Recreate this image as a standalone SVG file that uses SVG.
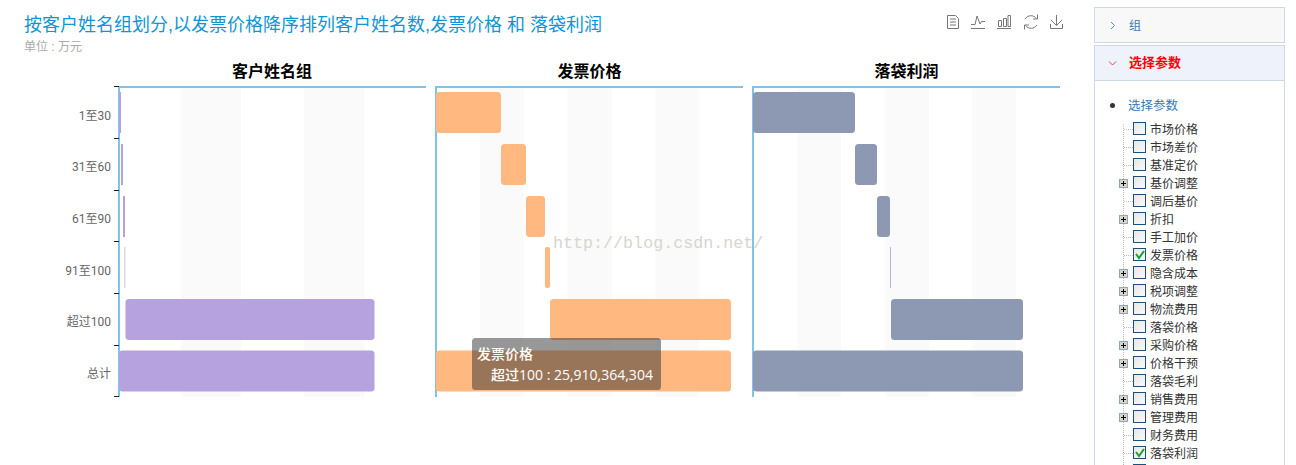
<svg xmlns="http://www.w3.org/2000/svg" width="1296" height="465" viewBox="0 0 1296 465">
<defs><linearGradient id="cbg" x1="0" y1="0" x2="1" y2="1"><stop offset="0" stop-color="#e6e6e2"/><stop offset="1" stop-color="#fafafa"/></linearGradient></defs>
<style>
text{font-family:"Liberation Sans","Noto Sans CJK SC",sans-serif}
.band{fill:#fafafa}
.ax{stroke:#7fc3e8;stroke-width:2;fill:none}
.tick{stroke:#222;stroke-width:1;fill:none}
.ptitle{font-size:16px;font-weight:bold;fill:#000;text-anchor:middle}
.cat{font-size:12px;fill:#666;text-anchor:end;font-family:Roboto,"Noto Sans CJK SC",sans-serif}
.p{fill:#b6a2de}.o{fill:#ffb980}.s{fill:#8d98b3}
.pan{stroke:#cdd9e5;stroke-width:1}
.cb{fill:url(#cbg);stroke:#1a5080;stroke-width:1}
.tree{font-size:12px;fill:#333}
.dot{stroke:#bbb;stroke-width:1;stroke-dasharray:1 1;fill:none}
.plus{fill:#d8d4c8;stroke:#8fa5bb;stroke-width:1}
.plusm{stroke:#000;stroke-width:1;fill:none}
.chk{stroke:#1f9e2a;stroke-width:2;fill:none}
.ic{stroke:#777;stroke-width:1;fill:none}
.tip{font-size:14px;fill:#fff;font-family:"Open Sans","Noto Sans CJK SC",sans-serif;font-weight:500}
</style>
<g id="title">
<text x="24" y="31" font-size="18" fill="#0f95d6">按客户姓名组划分,以发票价格降序排列客户姓名数,发票价格 和 落袋利润</text>
<text x="24" y="51" font-size="12" fill="#aaa">单位 : 万元</text>
</g>
<g id="toolbox">
<path class="ic" d="M947.500 15.500H955.500L958.500 18.500V28.500H947.500ZM950 19H956M950 22H956M950 25H956"/>
<path class="ic" d="M971 24.500H975L977 16L980 24L981.500 21.500H985M971 28.500H985"/>
<path class="ic" d="M998.500 20.500H1001.500V26.500H998.500ZM1003.500 18.500H1006.500V26.500H1003.500ZM1008 15.500H1010.500V26.500H1008ZM997 28.500H1011"/>
<path class="ic" d="M1025 19A7 7 0 0 1 1036.500 18.500M1037.500 14.500V19H1033M1037 25A7 7 0 0 1 1025.500 25.500M1024.500 29.500V25H1029"/>
<path class="ic" d="M1056.500 15V25M1051 20L1056.500 25.500L1062 20M1050.500 24V28.500H1062.500V24"/>
</g>
<g id="panel-customer">
<rect class="band" x="181" y="88" width="60" height="309"/>
<rect class="band" x="304" y="88" width="60.500" height="309"/>
<text class="ptitle" x="272" y="77">客户姓名组</text>
</g>
<g id="panel-price">
<rect class="band" x="480" y="88" width="43.500" height="309"/>
<rect class="band" x="567.500" y="88" width="44" height="309"/>
<rect class="band" x="655.500" y="88" width="43.500" height="309"/>
<text class="ptitle" x="589.500" y="77">发票价格</text>
</g>
<g id="panel-profit">
<rect class="band" x="797.500" y="88" width="43.500" height="309"/>
<rect class="band" x="885" y="88" width="44" height="309"/>
<rect class="band" x="972.500" y="88" width="43.500" height="309"/>
<text class="ptitle" x="906.500" y="77">落袋利润</text>
</g>
<g id="axis-labels">
<text class="cat" x="111" y="120">1至30</text>
<text class="cat" x="111" y="171">31至60</text>
<text class="cat" x="111" y="223">61至90</text>
<text class="cat" x="111" y="275">91至100</text>
<text class="cat" x="111" y="326">超过100</text>
<text class="cat" x="111" y="378">总计</text>
</g>
<g id="connectors">
<path class="ax" d="M119 397V87H426"/>
<path class="ax" d="M436 397V87H743"/>
<path class="ax" d="M753 397V87H1060"/>
<path class="tick" d="M114 86.500H119M114 138.500H119M114 190.500H119M114 241.500H119M114 293.500H119M114 345.500H119M114 396.500H119"/>
</g>
<g id="bars-customer">
<rect class="p" x="119" y="92" width="2" height="41"/>
<rect class="p" x="121" y="144" width="2" height="41"/>
<rect class="p" x="123" y="196" width="2" height="41"/>
<rect class="p" x="124" y="247" width="1.500" height="41" opacity=".45"/>
<rect class="p" x="125.500" y="299" width="249" height="41" rx="3.500"/>
<rect class="p" x="119" y="350.500" width="255.500" height="41" rx="3.500"/>
</g>
<g id="bars-price">
<rect class="o" x="436" y="92" width="65" height="41" rx="3.500"/>
<rect class="o" x="501" y="144" width="25" height="41" rx="3.500"/>
<rect class="o" x="526" y="196" width="19" height="41" rx="3.500"/>
<rect class="o" x="545" y="247" width="5" height="41" rx="2"/>
<rect class="o" x="550" y="299" width="181" height="41" rx="3.500"/>
<rect class="o" x="436" y="350.500" width="295" height="41" rx="3.500"/>
</g>
<g id="bars-profit">
<rect class="s" x="753" y="92" width="102" height="41" rx="3.500"/>
<rect class="s" x="855" y="144" width="22" height="41" rx="3.500"/>
<rect class="s" x="877" y="196" width="13" height="41" rx="3.500"/>
<rect class="s" x="890" y="247" width="1" height="41" opacity=".7"/>
<rect class="s" x="891" y="299" width="132" height="41" rx="3.500"/>
<rect class="s" x="753" y="350.500" width="270" height="41" rx="3.500"/>
</g>
<g id="watermark">
<text x="553" y="248" font-size="16.700" fill="#d6d6d0" style="font-family:'Liberation Mono',monospace">http://blog.csdn.net/</text>
</g>
<g id="tooltip">
<rect x="472" y="338" width="189" height="52" rx="3.500" fill="#323232" fill-opacity=".5"/>
<text class="tip" x="477" y="359">发票价格</text>
<text class="tip" x="491" y="380">超过100 : 25,910,364,304</text>
</g>
<g id="side-group">
<rect class="pan" x="1094.500" y="7.500" width="190" height="35" fill="#f8f8f8"/>
<path d="M1111 22L1114.500 25.500L1111 29" fill="none" stroke="#4a90d0" stroke-width="1"/>
<text x="1129" y="30" font-size="12" fill="#337ab7">组</text>
</g>
<g id="side-params">
<rect class="pan" x="1094.500" y="45.500" width="190" height="425" fill="#fff"/>
<rect class="pan" x="1094.500" y="45.500" width="190" height="35" fill="#eef3fb"/>
<path d="M1109 61.500L1112.500 65L1116 61.500" fill="none" stroke="#e8404a" stroke-width="1"/>
<text x="1129" y="67" font-size="13" font-weight="bold" fill="#f00">选择参数</text>
<circle cx="1112.500" cy="105.500" r="2.500" fill="#333"/>
<text x="1128" y="110" font-size="12.500" fill="#337ab7">选择参数</text>
</g>
<g id="tree">
<path class="dot" d="M1123.500 124V465"/>
<path class="dot" d="M1124 129.500H1133M1124 147.500H1133M1124 165.500H1133M1124 201.500H1133M1124 237.500H1133M1124 255.500H1133M1124 327.500H1133M1124 381.500H1133M1124 435.500H1133M1124 453.500H1133"/>
<g id="t1"><rect class="cb" x="1133.500" y="122.500" width="12" height="12"/><text class="tree" x="1150" y="134">市场价格</text></g>
<g id="t2"><rect class="cb" x="1133.500" y="140.500" width="12" height="12"/><text class="tree" x="1150" y="152">市场差价</text></g>
<g id="t3"><rect class="cb" x="1133.500" y="158.500" width="12" height="12"/><text class="tree" x="1150" y="170">基准定价</text></g>
<g id="t4"><rect class="plus" x="1119.500" y="179.500" width="8" height="8"/><path class="plusm" d="M1121 183.500H1126M1123.500 181V186"/><rect class="cb" x="1133.500" y="176.500" width="12" height="12"/><text class="tree" x="1150" y="188">基价调整</text></g>
<g id="t5"><rect class="cb" x="1133.500" y="194.500" width="12" height="12"/><text class="tree" x="1150" y="206">调后基价</text></g>
<g id="t6"><rect class="plus" x="1119.500" y="215.500" width="8" height="8"/><path class="plusm" d="M1121 219.500H1126M1123.500 217V222"/><rect class="cb" x="1133.500" y="212.500" width="12" height="12"/><text class="tree" x="1150" y="224">折扣</text></g>
<g id="t7"><rect class="cb" x="1133.500" y="230.500" width="12" height="12"/><text class="tree" x="1150" y="242">手工加价</text></g>
<g id="t8"><rect class="cb" x="1133.500" y="248.500" width="12" height="12"/><path class="chk" d="M1136 254L1139 258L1144 251"/><text class="tree" x="1150" y="260">发票价格</text></g>
<g id="t9"><rect class="plus" x="1119.500" y="269.500" width="8" height="8"/><path class="plusm" d="M1121 273.500H1126M1123.500 271V276"/><rect class="cb" x="1133.500" y="266.500" width="12" height="12"/><text class="tree" x="1150" y="278">隐含成本</text></g>
<g id="t10"><rect class="plus" x="1119.500" y="287.500" width="8" height="8"/><path class="plusm" d="M1121 291.500H1126M1123.500 289V294"/><rect class="cb" x="1133.500" y="284.500" width="12" height="12"/><text class="tree" x="1150" y="296">税项调整</text></g>
<g id="t11"><rect class="plus" x="1119.500" y="305.500" width="8" height="8"/><path class="plusm" d="M1121 309.500H1126M1123.500 307V312"/><rect class="cb" x="1133.500" y="302.500" width="12" height="12"/><text class="tree" x="1150" y="314">物流费用</text></g>
<g id="t12"><rect class="cb" x="1133.500" y="320.500" width="12" height="12"/><text class="tree" x="1150" y="332">落袋价格</text></g>
<g id="t13"><rect class="plus" x="1119.500" y="341.500" width="8" height="8"/><path class="plusm" d="M1121 345.500H1126M1123.500 343V348"/><rect class="cb" x="1133.500" y="338.500" width="12" height="12"/><text class="tree" x="1150" y="350">采购价格</text></g>
<g id="t14"><rect class="plus" x="1119.500" y="359.500" width="8" height="8"/><path class="plusm" d="M1121 363.500H1126M1123.500 361V366"/><rect class="cb" x="1133.500" y="356.500" width="12" height="12"/><text class="tree" x="1150" y="368">价格干预</text></g>
<g id="t15"><rect class="cb" x="1133.500" y="374.500" width="12" height="12"/><text class="tree" x="1150" y="386">落袋毛利</text></g>
<g id="t16"><rect class="plus" x="1119.500" y="395.500" width="8" height="8"/><path class="plusm" d="M1121 399.500H1126M1123.500 397V402"/><rect class="cb" x="1133.500" y="392.500" width="12" height="12"/><text class="tree" x="1150" y="404">销售费用</text></g>
<g id="t17"><rect class="plus" x="1119.500" y="413.500" width="8" height="8"/><path class="plusm" d="M1121 417.500H1126M1123.500 415V420"/><rect class="cb" x="1133.500" y="410.500" width="12" height="12"/><text class="tree" x="1150" y="422">管理费用</text></g>
<g id="t18"><rect class="cb" x="1133.500" y="428.500" width="12" height="12"/><text class="tree" x="1150" y="440">财务费用</text></g>
<g id="t19"><rect class="cb" x="1133.500" y="446.500" width="12" height="12"/><path class="chk" d="M1136 452L1139 456L1144 449"/><text class="tree" x="1150" y="458">落袋利润</text></g>
<g id="t20"><rect class="cb" x="1133.500" y="464.500" width="12" height="12"/></g>
</g>
</svg>
